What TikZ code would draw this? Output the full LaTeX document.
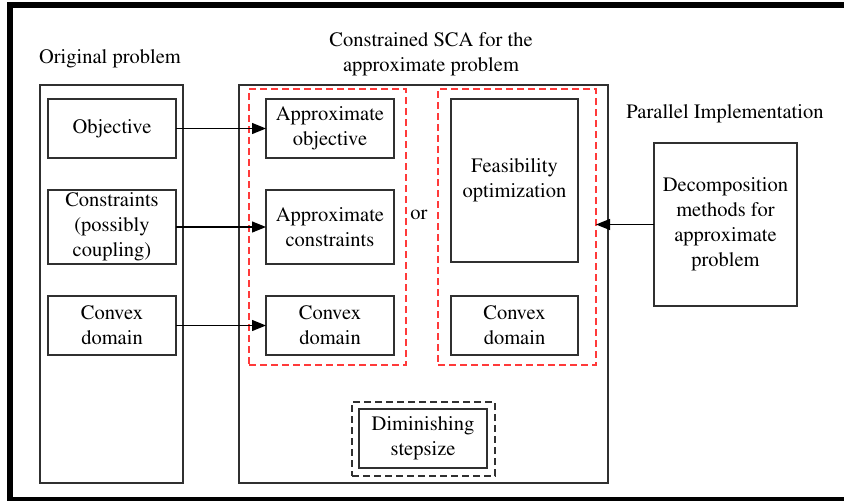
\documentclass[tikz,border=0pt]{standalone}
\usepackage[T1]{fontenc}
\usepackage{mathptmx}
\usetikzlibrary{arrows.meta}
\definecolor{boxline}{HTML}{303030}
\definecolor{redline}{HTML}{FF3A3A}
\begin{document}
\begin{tikzpicture}[x=1pt,y=-1pt,
  every node/.style={inner sep=0pt,outer sep=0pt,font=\rmfamily\fontsize{20.5}{25}\selectfont},
  box/.style={draw=boxline,line width=1.1pt,align=center,minimum width=128pt,minimum height=59pt},
  bigbox/.style={draw=boxline,line width=1.1pt},
  reddash/.style={draw=redline,line width=1.3pt,dash pattern=on 7pt off 4pt},
  blackdash/.style={draw=boxline,line width=1.3pt,dash pattern=on 7pt off 4pt},
  arr/.style={draw=black,line width=1.2pt,-{Triangle[length=14pt,width=11pt]}},
  title/.style={align=center}]
\useasboundingbox (0,0) rectangle (844,501);
% frame
\fill[black] (7,2) rectangle (844,8);
\fill[black] (7,2) rectangle (12.7,501);
\fill[black] (7,497) rectangle (844,501);
% titles
\node[title] (t1) at (110,59) {Original problem};
\node[title] (t2) at (431,54.5) {Constrained SCA for the\\approximate problem};
\node[title] (t3) at (725,114) {Parallel Implementation};
% big boxes
\node[bigbox,minimum width=143pt,minimum height=398pt] (orig) at (111.5,284) {};
\node[bigbox,minimum width=369pt,minimum height=398pt] (sca) at (423.5,284) {};
% red dashed groups
\node[reddash,minimum width=157pt,minimum height=276pt] (red1) at (327.5,227) {};
\node[reddash,minimum width=158pt,minimum height=276pt] (red2) at (517,227) {};
% left column
\node[box] (obj) at (112,128.5) {Objective};
\node[box,minimum height=74pt] (con) at (112,227) {Constraints\\(possibly\\coupling)};
\node[box] (cvx) at (112,325.5) {Convex\\domain};
% middle column
\node[box] (aobj) at (330,128.5) {Approximate\\objective};
\node[box,minimum height=74pt] (acon) at (330,227) {Approximate\\constraints};
\node[box] (acvx) at (330,325.5) {Convex\\domain};
\node (or) at (419,215) {or};
\node[box,minimum width=127pt,minimum height=163pt] (feas) at (514.5,180.5) {Feasibility\\optimization};
\node[box,minimum width=127pt] (fcvx) at (514.5,325.5) {Convex\\domain};
% diminishing stepsize
\node[blackdash,minimum width=143pt,minimum height=74pt] (dimo) at (423.5,439) {};
\node[box] (dim) at (423,438.5) {Diminishing\\stepsize};
% decomposition
\node[box,minimum width=143pt,minimum height=163pt] (dec) at (725.5,224.5) {Decomposition\\methods for\\approximate\\problem};
% arrows
\draw[arr] (obj.east) -- (aobj.west);
\draw[arr] (con.east) -- (acon.west);
\draw[arr] (cvx.east) -- (acvx.west);
\draw[arr] (dec.west) -- (dec.west -| red2.east);
\end{tikzpicture}
\end{document}
